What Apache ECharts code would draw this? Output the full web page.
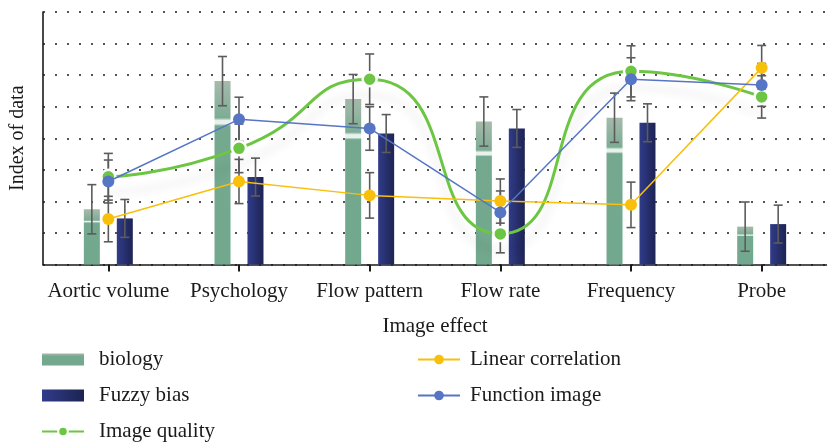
<!DOCTYPE html>
<html>
<head>
<meta charset="utf-8">
<script src="https://cdn.jsdelivr.net/npm/echarts@6/dist/echarts.min.js"></script>
<style>
html,body{margin:0;padding:0;background:#fff;}
#chart{width:827px;height:442px;}
</style>
</head>
<body>
<div id="chart"></div>
<script>
// ---- data ----
var categories = ['Aortic volume', 'Psychology', 'Flow pattern', 'Flow rate', 'Frequency', 'Probe'];
var biology = [1.75, 5.81, 5.24, 4.53, 4.65, 1.20];
var biologyErr = [0.78, 0.78, 0.78, 0.78, 0.78, 0.78];
var fuzzyBias = [1.46, 2.77, 4.15, 4.31, 4.49, 1.28];
var fuzzyBiasErr = [0.6, 0.6, 0.6, 0.6, 0.6, 0.6];
var imageQuality = [2.78, 3.68, 5.87, 0.97, 6.12, 5.31];
var imageQualityErr = [0.74, 0.77, 0.80, 0.60, 0.81, 0.67];
var linearCorrelation = [1.44, 2.63, 2.19, 2.01, 1.89, 6.23];
var linearCorrelationErr = [0.72, 0.70, 0.72, 0.70, 0.72, 0.71];
var functionImage = [2.63, 4.60, 4.31, 1.65, 5.87, 5.69];
var functionImageErr = [0.68, 0.70, 0.69, 0.68, 0.68, 0.68];
var yMin = 0, yMax = 8, yStep = 1;

// ---- styling ----
var FONT = "'Liberation Serif', 'DejaVu Serif', serif";
var FS = 21;
var BAR_W = 16;
var BAR_OFFSET = 16.5;
var ERR_COLOR = '#5c5c5c';

function errData(vals, errs) {
  return vals.map(function (v, i) { return [i, v - errs[i], v + errs[i]]; });
}
function errSeries(name, vals, errs, dx) {
  return {
    type: 'custom',
    name: name,
    z: 3,
    silent: true,
    data: errData(vals, errs),
    renderItem: function (params, api) {
      var lo = api.coord([api.value(0), api.value(1)]);
      var hi = api.coord([api.value(0), api.value(2)]);
      var x = lo[0] + dx;
      var cap = 4.5;
      var st = { stroke: ERR_COLOR, lineWidth: 1.6 };
      return {
        type: 'group',
        children: [
          { type: 'line', shape: { x1: x, y1: lo[1], x2: x, y2: hi[1] }, style: st },
          { type: 'line', shape: { x1: x - cap, y1: lo[1], x2: x + cap, y2: lo[1] }, style: st },
          { type: 'line', shape: { x1: x - cap, y1: hi[1], x2: x + cap, y2: hi[1] }, style: st }
        ]
      };
    }
  };
}

var biologyColor = {
  type: 'linear', x: 0, y: 0, x2: 0, y2: 1,
  colorStops: [
    { offset: 0, color: '#a6baab' },
    { offset: 0.2, color: '#7dac94' },
    { offset: 0.215, color: '#e8f1ec' },
    { offset: 0.232, color: '#e8f1ec' },
    { offset: 0.245, color: '#74a98f' },
    { offset: 1, color: '#72a88e' }
  ]
};
var fuzzyColor = {
  type: 'linear', x: 0, y: 0, x2: 1, y2: 0,
  colorStops: [
    { offset: 0, color: '#313c8a' },
    { offset: 1, color: '#1d2352' }
  ]
};

var chart = echarts.init(document.getElementById('chart'), null, { renderer: 'canvas' });
var option = {
  backgroundColor: '#ffffff',
  animation: false,
  textStyle: { fontFamily: FONT },
  grid: { left: 43, top: 12, width: 794, height: 252.5 },
  legend: [
    {
      orient: 'vertical', left: 41, top: 349, padding: 0,
      itemWidth: 42, itemHeight: 12, itemGap: 15,
      data: [
        { name: 'biology', icon: 'rect' },
        { name: 'Fuzzy bias', icon: 'rect' },
        { name: 'Image quality' }
      ],
      textStyle: { fontFamily: FONT, fontSize: FS, color: '#1a1a1a', lineHeight: 21, padding: [0, 0, 0, 10] }
    },
    {
      orient: 'vertical', left: 417, top: 349, padding: 0,
      itemWidth: 42, itemHeight: 12, itemGap: 15,
      data: ['Linear correlation', 'Function image'],
      textStyle: { fontFamily: FONT, fontSize: FS, color: '#1a1a1a', lineHeight: 21, padding: [0, 0, 0, 5] }
    }
  ],
  xAxis: {
    type: 'category',
    data: categories,
    boundaryGap: true,
    name: 'Image effect',
    nameLocation: 'middle',
    nameGap: 51,
    nameTextStyle: { fontFamily: FONT, fontSize: FS, color: '#1a1a1a' },
    axisLine: { lineStyle: { color: '#1a1a1a', width: 1.6 } },
    axisTick: { show: true, alignWithLabel: true, length: 7, lineStyle: { color: '#1a1a1a', width: 2 } },
    axisLabel: { fontFamily: FONT, fontSize: FS, color: '#1a1a1a', margin: 16, interval: 0 },
    splitLine: { show: false }
  },
  yAxis: {
    type: 'value',
    min: yMin, max: yMax, interval: yStep,
    name: 'Index of data',
    nameLocation: 'middle',
    nameGap: 15,
    nameTextStyle: { fontFamily: FONT, fontSize: 20, color: '#1a1a1a' },
    axisLine: { show: true, lineStyle: { color: '#1a1a1a', width: 1.6 } },
    axisTick: { show: false },
    axisLabel: { show: false },
    splitLine: { show: true, lineStyle: { color: '#555', width: 2, type: [2, 10] } }
  },
  series: [
    {
      name: 'biology', type: 'bar', data: biology,
      barWidth: BAR_W, barGap: '106%', z: 2,
      itemStyle: { color: biologyColor }
    },
    {
      name: 'Fuzzy bias', type: 'bar', data: fuzzyBias,
      barWidth: BAR_W, barGap: '106%', z: 2,
      itemStyle: { color: fuzzyColor }
    },
    errSeries('err-biology', biology, biologyErr, -BAR_OFFSET),
    errSeries('err-fuzzy', fuzzyBias, fuzzyBiasErr, BAR_OFFSET),
    errSeries('err-quality', imageQuality, imageQualityErr, 0),
    errSeries('err-linear', linearCorrelation, linearCorrelationErr, 0),
    errSeries('err-function', functionImage, functionImageErr, 0),
    {
      name: 'Image quality', type: 'line', data: imageQuality, z: 4,
      smooth: 0.6,
      symbol: 'circle', symbolSize: 14,
      lineStyle: { color: '#6cc644', width: 3, shadowColor: 'rgba(0,0,0,0.10)', shadowBlur: 10, shadowOffsetY: 16 },
      itemStyle: { color: '#6cc644', borderColor: '#ffffff', borderWidth: 2.5 }
    },
    {
      name: 'Linear correlation', type: 'line', data: linearCorrelation, z: 5,
      symbol: 'circle', symbolSize: 12,
      lineStyle: { color: '#f8bf0b', width: 1.5 },
      itemStyle: { color: '#f8bf0b' }
    },
    {
      name: 'Function image', type: 'line', data: functionImage, z: 6,
      symbol: 'circle', symbolSize: 12,
      lineStyle: { color: '#5675c4', width: 1.5 },
      itemStyle: { color: '#5675c4' }
    }
  ]
};
chart.setOption(option);
</script>
</body>
</html>
